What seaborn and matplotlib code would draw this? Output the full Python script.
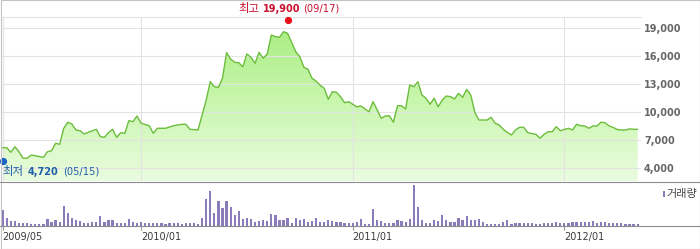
import numpy as np
import pandas as pd
import matplotlib
matplotlib.use("Agg")
import matplotlib.pyplot as plt
import seaborn as sns
from matplotlib.colors import LinearSegmentedColormap
from matplotlib.patches import PathPatch, Rectangle
from matplotlib.lines import Line2D

# ---------------- data ----------------
start_week = "2009-05-11"
price = [6160, 6160, 5670, 6270, 5730, 5030, 5030, 5380, 5300, 5230,
         5130, 5730, 5840, 6640, 6530, 8250, 8900, 8710, 8070, 7990,
         7640, 7820, 7980, 8140, 7350, 7280, 7790, 8140, 7280, 7780,
         7710, 9070, 8960, 9570, 8790, 8660, 8530, 7710, 8250, 8250,
         8250, 8390, 8530, 8600, 8680, 8680, 8140, 8110, 8070, 9680,
         11290, 13260, 12720, 12660, 13630, 16380, 15700, 15350, 15300, 14870,
         16240, 15880, 15240, 16420, 15780, 16240, 18280, 18100, 18030, 18630,
         18460, 17460, 16480, 15950, 14810, 14590, 13630, 13320, 12880, 12550,
         11370, 12180, 12120, 11650, 11000, 11110, 10830, 10570, 10640, 10350,
         10030, 11110, 10240, 9330, 9570, 9600, 8900, 10680, 10680, 10330,
         12900, 12720, 13260, 11830, 11480, 10830, 11480, 10570, 11290, 11720,
         11650, 11400, 12010, 11580, 12440, 11830, 9970, 9140, 9140, 9140,
         9430, 8790, 8600, 8140, 7800, 7530, 8070, 8360, 8360, 7780,
         7690, 7600, 7180, 7600, 7880, 7880, 8420, 7990, 8120, 8250,
         8070, 8680, 8520, 8500, 8250, 8500, 8500, 8900, 8850, 8500,
         8340, 8120, 8070, 8070, 8180, 8150, 8140]
volume = [15, 7.7, 4, 4, 2, 2, 2, 1.7, 1.7, 1.3,
          1.3, 6.7, 3.3, 5, 3.3, 19, 12, 7.3, 5, 4,
          2.3, 2.3, 3.3, 3.3, 9, 3, 5.7, 5, 2.3, 2.3,
          2.3, 6.7, 3, 2.3, 3.7, 2.3, 2, 2, 2.3, 2.7,
          1.3, 2, 2, 2.3, 1.7, 2, 2, 2, 1.3, 7.7,
          26, 33.3, 12.7, 24, 16.7, 24.3, 17.7, 10, 14, 6.7,
          7.7, 6.7, 3.7, 4.3, 5.7, 4, 11.7, 10, 5.7, 5,
          7.7, 2.7, 7.3, 5.7, 6.7, 3, 4, 7.3, 3.3, 3,
          5.7, 4, 3.3, 3.7, 2, 2, 2.3, 3, 6, 1.7,
          1.3, 16, 5.7, 4, 2, 2, 2.7, 5.7, 4, 3.3,
          6.7, 40, 17.7, 5.7, 2.7, 2.7, 5, 4.3, 10, 5.5,
          3.3, 3, 7.7, 5, 9, 5, 5, 6.3, 3.7, 1.7,
          1.7, 1.3, 1.7, 3, 5, 1.7, 2, 2.7, 2.3, 2,
          2, 1.7, 1.7, 2, 2.3, 2.7, 3, 2, 2, 2.7,
          3.3, 3.7, 3.7, 3.3, 3.7, 4.3, 2.7, 3.7, 3, 2.7,
          2.3, 2, 2, 1.7, 1.7, 1.7, 1.3]
x_tick_labels = ["2009/05", "2010/01", "2011/01", "2012/01"]
y_ticks = [4000, 7000, 10000, 13000, 16000, 19000]
high_value, high_date = 19900, "2010-09-17"
low_value, low_date = 4720, "2009-05-15"
volume_label = "거래량"

# ---------------- prep ----------------
dates = pd.date_range(start_week, periods=len(price), freq="7D")
idx = np.arange(len(price))
df = pd.DataFrame({"i": idx, "price": price, "volume": volume, "date": dates})
tick_idx = [int(np.argmax(dates.strftime("%Y/%m") == lab)) for lab in x_tick_labels]
hi_i = (pd.Timestamp(high_date) - dates[0]).days // 7
lo_i = (pd.Timestamp(low_date) - dates[0]).days // 7

W, H = 700, 249
sns.set_theme(style="white")
plt.rcParams["font.family"] = ["DejaVu Sans", "Noto Sans CJK KR"]
KR = ["Noto Sans CJK KR", "DejaVu Sans"]

fig = plt.figure(figsize=(W / 100, H / 100), dpi=100, facecolor="white")


def rect(x0, y0, x1, y1):
    return [x0 / W, 1 - y1 / H, (x1 - x0) / W, (y1 - y0) / H]


ax_p = fig.add_axes(rect(2, 17.3, 641, 181))
ax_v = fig.add_axes(rect(2, 181, 641, 225.5))

step = 4.07
xl = (-0.7 / step, -0.7 / step + 639 / step)
yl = (2584, 20182)

# ---------- price panel ----------
sns.lineplot(data=df, x="i", y="price", ax=ax_p, color="#6cbd3c",
             linewidth=1.0, zorder=4)
poly = ax_p.fill_between(df["i"], df["price"], yl[0], facecolor="none",
                         edgecolor="none")
patch = PathPatch(poly.get_paths()[0], transform=ax_p.transData,
                  facecolor="none", edgecolor="none")
ax_p.add_patch(patch)
cmap = LinearSegmentedColormap.from_list("g", ["#a6ec7c", "#c8f6ad", "#eafcdf"])
grad = np.linspace(0, 1, 256).reshape(-1, 1)
im = ax_p.imshow(grad, extent=[xl[0], xl[1], yl[0], yl[1]], aspect="auto",
                 cmap=cmap, origin="upper", zorder=1)
im.set_clip_path(patch)

ax_p.set_xlim(xl)
ax_p.set_ylim(yl)
ax_p.set_xticks(tick_idx)
ax_p.set_yticks(y_ticks)
ax_p.set_yticklabels([f"{v:,}" for v in y_ticks])
ax_p.yaxis.tick_right()
ax_p.tick_params(axis="y", length=0, pad=2.2, labelsize=7, labelcolor="#666666")
ax_p.tick_params(axis="x", length=0, labelbottom=False)
for lab in ax_p.get_yticklabels():
    lab.set_fontweight("bold")
ax_p.grid(True, color="#e3e3e3", linewidth=0.8)
ax_p.set_axisbelow(False)
for s in ["left", "right", "bottom"]:
    ax_p.spines[s].set_visible(False)
ax_p.spines["top"].set_color("#e3e3e3")
ax_p.spines["top"].set_linewidth(0.8)
ax_p.set_xlabel("")
ax_p.set_ylabel("")

# high / low markers
ax_p.plot([hi_i], [high_value], "o", color="#e8101a", markersize=4.2,
          clip_on=False, zorder=6)
ax_p.plot([lo_i], [low_value], "o", color="#1d62c4", markersize=4.2,
          clip_on=False, zorder=6)
red = "#c8102e"
blue = "#1f5ea8"
ax_p.annotate("최고", (hi_i, high_value), xytext=(-49.5, 11), textcoords="offset pixels",
              ha="left", va="center", color=red, fontsize=8.2, family=KR,
              annotation_clip=False)
ax_p.annotate(f"{high_value:,}", (hi_i, high_value), xytext=(-24.5, 11),
              textcoords="offset pixels", ha="left", va="center", color=red,
              fontsize=7, fontweight="bold", annotation_clip=False)
ax_p.annotate("(" + pd.Timestamp(high_date).strftime("%m/%d") + ")", (hi_i, high_value),
              xytext=(16, 11), textcoords="offset pixels", ha="left", va="center",
              color=red, fontsize=7.1, annotation_clip=False)
ax_p.annotate("최저", (lo_i, low_value), xytext=(0, -10.7), textcoords="offset pixels",
              ha="left", va="center", color=blue, fontsize=8.2, family=KR,
              annotation_clip=False)
ax_p.annotate(f"{low_value:,}", (lo_i, low_value), xytext=(25.3, -10.7),
              textcoords="offset pixels", ha="left", va="center", color=blue,
              fontsize=7, fontweight="bold", annotation_clip=False)
ax_p.annotate("(" + pd.Timestamp(low_date).strftime("%m/%d") + ")", (lo_i, low_value),
              xytext=(60.3, -10.7), textcoords="offset pixels", ha="left", va="center",
              color=blue, fontsize=7.1, annotation_clip=False)

# ---------- volume panel ----------
sns.barplot(data=df, x="i", y="volume", ax=ax_v, color="#8a7bbb", width=0.55,
            linewidth=0, saturation=1, native_scale=True)
ax_v.set_xlim(xl)
ax_v.set_ylim(0, 43.5)
ax_v.set_yticks([])
ax_v.set_xticks(tick_idx)
ax_v.set_xticklabels(x_tick_labels, ha="left")
ax_v.tick_params(axis="x", length=3.2, width=0.8, color="#999999", pad=1.5,
                 labelsize=7, labelcolor="#3a3a3a", direction="out", bottom=True)
for s in ax_v.spines.values():
    s.set_visible(False)
ax_v.set_xlabel("")
ax_v.set_ylabel("")

# ---------- frame lines / legend ----------
for yy in (181.5, 225.5):
    fig.add_artist(Line2D([0, 1], [1 - yy / H, 1 - yy / H], color="#8c8c8c",
                          linewidth=0.8, transform=fig.transFigure))
fig.add_artist(Rectangle((0.5 / W, 0.5 / H), (W - 1) / W, (H - 1) / H,
                         transform=fig.transFigure, fill=False,
                         edgecolor="#c4c4c4", linewidth=0.8))
fig.add_artist(Rectangle((663.3 / W, 1 - 197 / H), 2.2 / W, 6.5 / H,
                         transform=fig.transFigure, color="#8a7bbb", linewidth=0))
fig.text(666.5 / W, 1 - 193.8 / H, volume_label, ha="left", va="center",
         fontsize=8, color="#444444", family=KR)

fig.savefig("out.png", dpi=100, facecolor="white")
